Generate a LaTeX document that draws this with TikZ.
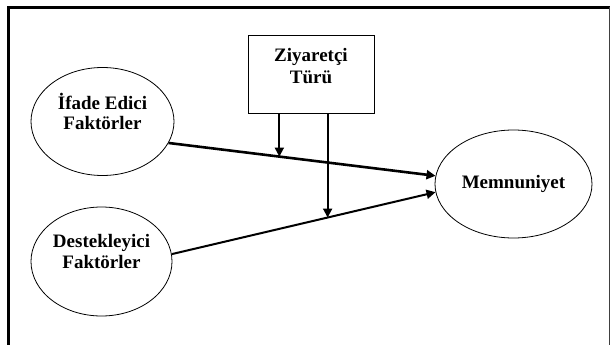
\documentclass[tikz,border=0pt]{standalone}
\usepackage{fontspec}
\setmainfont{Liberation Serif}
\usetikzlibrary{arrows.meta,shapes.geometric}
\tikzset{
	factor/.style={draw, ellipse, line width=0.8pt, inner sep=0pt, align=center,
		font=\fontsize{19}{20.5}\selectfont\bfseries},
	moderator/.style={draw, rectangle, line width=0.9pt, inner sep=0pt, align=center,
		minimum width=126pt, minimum height=78pt,
		font=\fontsize{19}{22}\selectfont\bfseries},
	effect/.style={line width=2pt, -{Triangle[length=9pt,width=9pt]}}
}
\begin{document}
\begin{tikzpicture}[x=1pt, y=-1pt]
			%%%%% START %%%%%
			\useasboundingbox (0, 0) rectangle (611, 345);
			
			% frame
			\draw[line width=2.5pt] (8.5, 346) -- (8.5, 7.5) -- (609.5, 7.5);
			\draw[line width=1.5pt, color=black!75] (609.5, 7.5) -- (609.5, 346);
			
			\node[factor, minimum width=143pt, minimum height=108pt] (ifade) at (102.5, 121.5) {İfade Edici\\Faktörler\\\mbox{}};
			\node[factor, minimum width=141pt, minimum height=109pt] (destek) at (101.5, 261.5) {Destekleyici\\Faktörler\\\mbox{}};
			\node[factor, minimum width=157pt, minimum height=108pt] (memnun) at (513.5, 184) {Memnuniyet};
			\node[moderator] (ziyaret) at (311, 74) {Ziyaretçi\\Türü\\[-6pt]\mbox{}};
			
			\draw[effect, line width=2.6pt] (ifade.-18) -- (memnun.174) coordinate[pos=0.415] (m1);
			\draw[effect] (destek.6) -- (memnun.186) coordinate[pos=0.591] (m2);
			
			\draw[effect] (ziyaret.south -| m1) -- (m1);
			\draw[effect] (ziyaret.south -| m2) -- (m2);
			
			%%%%% END %%%%%
		\end{tikzpicture}
\end{document}
